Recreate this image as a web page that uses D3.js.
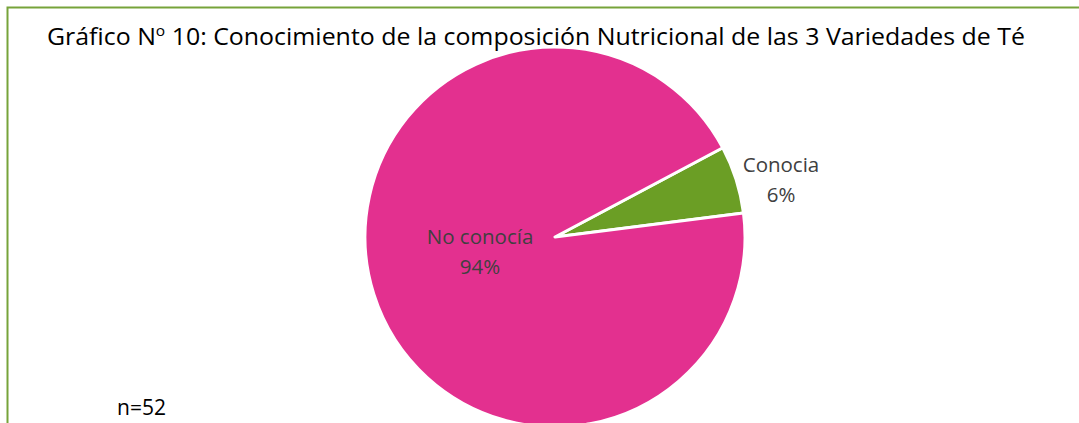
<!DOCTYPE html>
<html><head><meta charset="utf-8">
<script src="https://cdn.jsdelivr.net/npm/d3@7"></script>
<style>body{margin:0;background:#fff}</style>
</head><body>
<script>
const categories = ["Conocia", "No conocía"];
const values = [3, 49];
const percentLabels = ["6%", "94%"];
const colors = ["#6B9E25", "#E3308F"];

const W = 1079, H = 423;
const svg = d3.select("body").append("svg").attr("width", W).attr("height", H);

// border
svg.append("path").attr("d", `M7.5,${H} V7.5 H${W}`).attr("fill","none").attr("stroke","#77A33A").attr("stroke-width",2);

const font = "'Open Sans', 'Noto Sans', sans-serif";

// title
const title = svg.append("text").attr("x", 47).attr("y", 45).attr("font-family", font).attr("font-size", 24).attr("fill", "#000")
  .attr("textLength", 978).attr("lengthAdjust", "spacingAndGlyphs");
title.append("tspan").text("Gráfico N");
title.append("tspan").attr("font-size", 15).attr("dy", -9).text("o");
title.append("tspan").attr("dy", 9).text(" 10: Conocimiento de la composición Nutricional de las 3 Variedades de Té");

const cx = 555, cy = 237, r = 190;
const startDeg = 62;
const pie = d3.pie().sort(null).startAngle(startDeg*Math.PI/180).endAngle((startDeg+360)*Math.PI/180);
const arcs = pie(values);
const arc = d3.arc().innerRadius(0).outerRadius(r);
const g = svg.append("g").attr("transform", `translate(${cx},${cy})`);
g.selectAll("path").data(arcs).join("path").attr("d", arc).attr("fill", (d,i)=>colors[i])
  .attr("stroke", "#fff").attr("stroke-width", 3).attr("stroke-linejoin","round");

// labels
const labelPos = [[226, -65], [-75, 7]];
arcs.forEach((d,i)=>{
  const t = g.append("text").attr("font-family", font).attr("font-size", 20.5).attr("fill", "#404040").attr("text-anchor","middle")
    .attr("x", labelPos[i][0]).attr("y", labelPos[i][1]);
  t.append("tspan").attr("x", labelPos[i][0]).attr("dy", 0).text(categories[i]);
  t.append("tspan").attr("x", labelPos[i][0]).attr("dy", 30).text(percentLabels[i]);
});

svg.append("text").attr("x", 117).attr("y", 415).attr("font-family", font).attr("font-size", 21).attr("fill","#000").text("n=52");
</script>
</body></html>
